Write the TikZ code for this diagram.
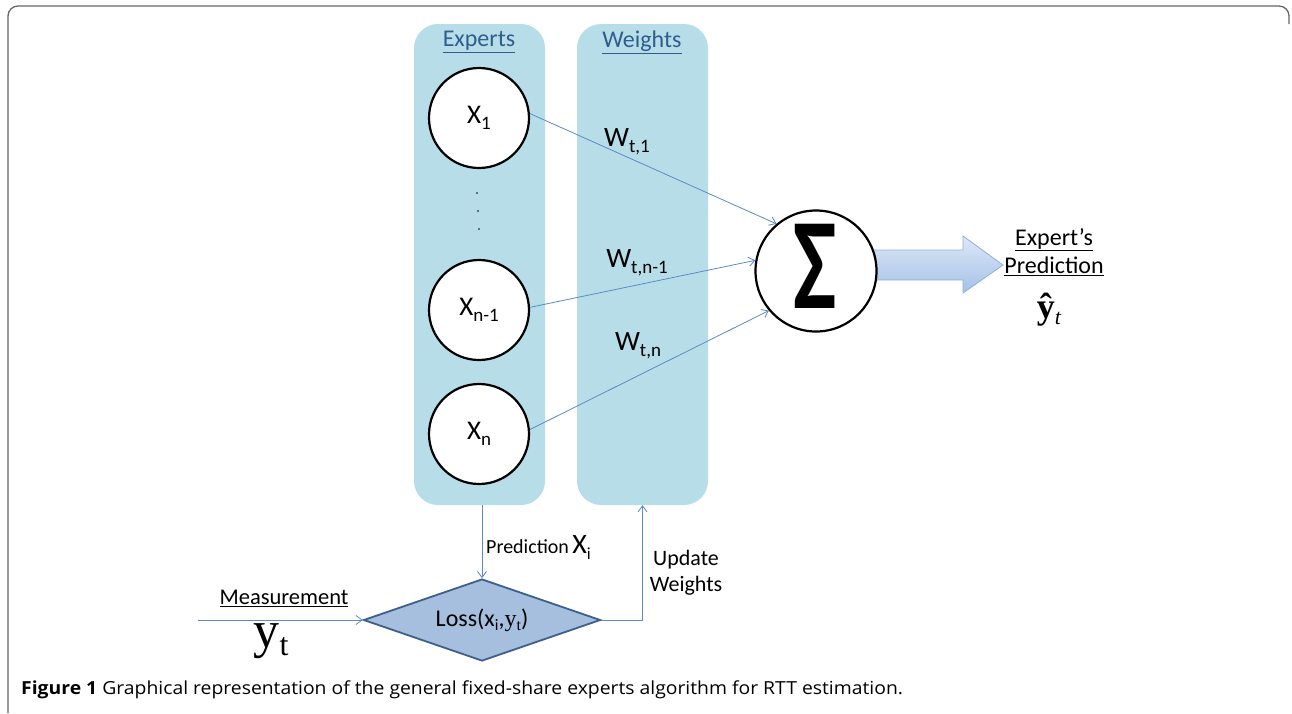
\documentclass[tikz,border=0pt]{standalone}
\usepackage{fontspec}
\setmainfont{Carlito}
\newfontfamily\capfont{Open Sans}
\newfontfamily\sermain{Liberation Serif}
\usetikzlibrary{arrows.meta,shapes.geometric}
\definecolor{panel}{HTML}{B7DEE8}
\definecolor{titleblue}{HTML}{2F5D8E}
\definecolor{conn}{HTML}{5B8BC6}
\definecolor{lossfill}{HTML}{A7BFDF}
\definecolor{lossdraw}{HTML}{3D5F8C}
\definecolor{arrowtop}{HTML}{DDE8F6}
\definecolor{arrowbot}{HTML}{A4C1E8}
\definecolor{arrowdraw}{HTML}{8DB0DE}
\newcommand{\fsz}[1]{\fontsize{#1}{#1}\selectfont}
\newcommand{\subx}[1]{\raisebox{-6pt}{\fsz{19}#1}}
\newcommand{\subl}[1]{\raisebox{-4pt}{\fsz{16}#1}}
\begin{document}
\begin{tikzpicture}[x=1pt,y=-1pt,
  panelbox/.style={fill=panel, rounded corners=24pt, minimum width=131pt, minimum height=481pt, inner sep=0pt},
  paneltitle/.style={text=titleblue, font=\fsz{24}, inner sep=0pt},
  expert/.style={circle, draw=black, line width=2.2pt, fill=white, minimum size=100pt, inner sep=0pt, font=\fsz{27}},
  wlab/.style={font=\fsz{28}, inner sep=0pt},
  conn/.style={draw=conn, line width=0.8pt, -{Straight Barb[length=6pt,width=9pt]}},
  lbl/.style={font=\fsz{20}, inner sep=0pt, align=center},
  bigarrow/.style={top color=arrowtop, bottom color=arrowbot, draw=arrowdraw, line width=0.8pt},
]
\useasboundingbox (0,0) rectangle (1292,713);
\fill[white] (0,0) rectangle (1292,713);
% frame
\draw[black!60, line width=1.3pt, rounded corners=10pt] (8,713) -- (8,6) -- (1289,6) -- (1289,24);

% panels
\node[panelbox] (experts) at (479.5,264.5) {};
\node[panelbox] (weights) at (642.5,264.5) {};
\node[paneltitle] (tE) at (479,42) {\underline{Experts}};
\node[paneltitle] (tW) at (642,42) {\underline{Weights}};

% experts
\node[expert] (x1) at (479,118) {X\subx{1}};
\node[expert] (xn1) at (479,310) {X\subx{n-1}};
\node[expert] (xn) at (479,434) {X\subx{n}};
\fill[black!70] (477,193) circle (1.1pt) (478,211) circle (1.1pt) (479,229) circle (1.1pt);

% big arrow (drawn before sigma)
\draw[bigarrow] (860,250) -- (963,250) -- (963,236) -- (1003,265) -- (963,293) -- (963,280) -- (860,280) -- cycle;

% sigma
\node[expert, minimum size=121pt] (sig) at (816,271) {};
\node[inner sep=0pt, font=\fsz{100}\bfseries] (sigsym) at (815,266) {\scalebox{0.92}[1.3]{Σ}};

% weights labels
\node[wlab] (w1) at (627,142) {W\subx{t,1}};
\node[wlab] (wn1) at (637,263) {W\subx{t,n-1}};
\node[wlab] (wn) at (638,346) {W\subx{t,n}};

% connectors to sigma
\draw[conn] (x1.5) -- (sig.130);
\draw[conn] (xn1.3) -- (sig.170);
\draw[conn] (xn.5) -- (sig.220);

% output
\node[font=\fsz{24}, align=center, inner sep=0pt] (out) at (1054,252) {\underline{Expert’s}\\[4pt]\underline{Prediction}};
\node[inner sep=0pt] (yhat) at (1049,310) {\sermain\fsz{36}\textbf{ŷ}\raisebox{-6pt}{\fsz{22}\itshape t}};

% loss
\node[diamond, aspect=2.9, draw=lossdraw, line width=1.8pt, fill=lossfill, minimum width=237pt, minimum height=82pt, inner sep=0pt, font=\fsz{24}] (loss) at (482,620) {Loss(x\subl{i},{\sermain y}\subl{\sermain t})};

\draw[conn] (experts.south -| loss.north) -- (loss.north);
\node[lbl, anchor=west] (plab) at (486,548) {Prediction\,\fsz{28}X\raisebox{-6pt}{\fsz{17}i}};

\draw[conn] (loss.east) -| (weights.south);
\node[lbl, font=\fsz{22}] (ulab) at (686,573) {Update\\[4pt]Weights};

\coordinate (min) at (198,620);
\draw[conn] (min) -- (loss.west);
\node[lbl, font=\fsz{22.5}] (mlab) at (284,598) {\underline{Measurement}};
\node[inner sep=0pt] (ylab) at (271,641) {\sermain\fsz{52}y\raisebox{-8pt}{\fsz{32}t}};

% caption
\node[anchor=west, inner sep=0pt, font=\capfont\fsz{18}] (cap) at (21,690) {\scalebox{1.075}[1]{\textbf{Figure 1} Graphical representation of the general fixed-share experts algorithm for RTT estimation.}};
\end{tikzpicture}
\end{document}
